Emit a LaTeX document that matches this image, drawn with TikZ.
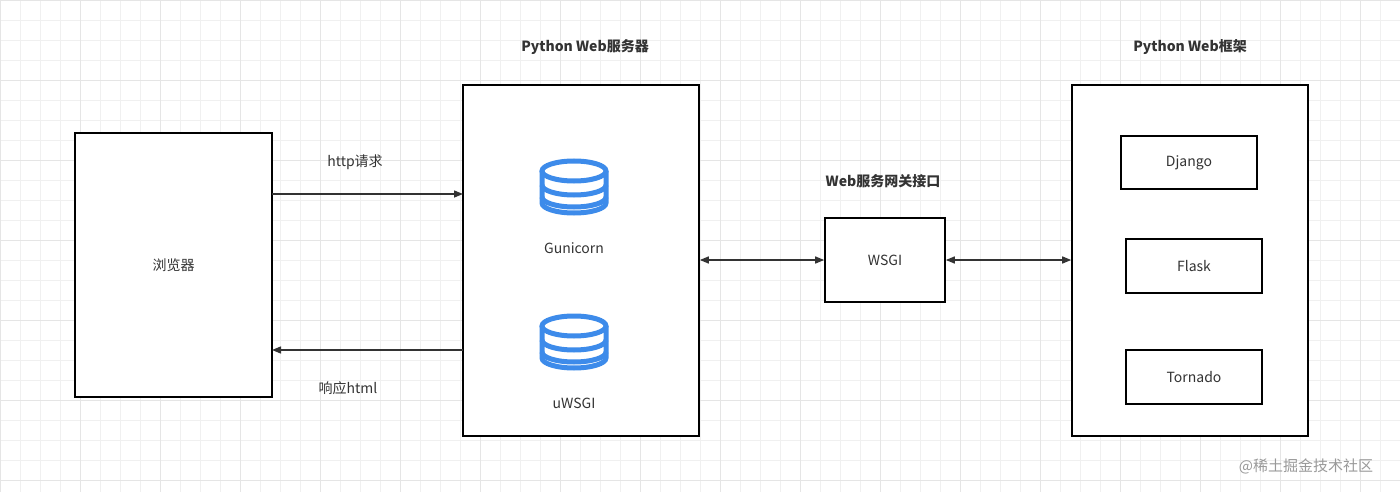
\documentclass[tikz,border=0pt]{standalone}
\usepackage{fontspec}
\setmainfont{Noto Sans CJK SC}
\usetikzlibrary{arrows.meta}
\definecolor{db}{HTML}{3D8BEA}
\definecolor{txt}{HTML}{333333}
\begin{document}
\begin{tikzpicture}[x=1pt,y=-1pt,
  box/.style={draw=black,line width=1.6pt,fill=white,inner sep=0pt},
  lbl/.style={font=\fontsize{14}{16}\selectfont,text=txt},
  ttl/.style={font=\fontsize{14}{16}\selectfont\bfseries,text=txt},
  arr/.style={line width=1.4pt,draw=txt,-{Triangle[length=9pt,width=7pt]}},
  darr/.style={line width=1.4pt,draw=txt,{Triangle[length=9pt,width=7pt]}-{Triangle[length=9pt,width=7pt]}}]
\fill[white] (0,0) rectangle (1400,492);
\useasboundingbox (0,0) rectangle (1400,492);
\foreach \i in {0,20,...,1400} \draw[black!6,line width=0.5pt] (\i,0) -- (\i,492);
\foreach \i in {0,20,...,480} \draw[black!6,line width=0.5pt] (0,\i) -- (1400,\i);
\foreach \i in {0,80,...,1400} \draw[black!10,line width=0.6pt] (\i,0) -- (\i,492);
\foreach \i in {0,80,...,480} \draw[black!10,line width=0.6pt] (0,\i) -- (1400,\i);
\node[box,minimum width=197pt,minimum height=264pt] (br) at (173.5,265) {};
\node[lbl] at (br.center) {浏览器};
\node[box,minimum width=236pt,minimum height=351pt] (srv) at (581,260.5) {};
\node[box,minimum width=120pt,minimum height=84pt] (wsgi) at (885,260) {};
\node[lbl] at (wsgi.center) {WSGI};
\node[box,minimum width=236pt,minimum height=351pt] (fw) at (1190,260.5) {};
\node[box,minimum width=136pt,minimum height=53pt] (dj) at (1189,162.5) {};
\node[lbl] at (dj.center) {Django};
\node[box,minimum width=136pt,minimum height=54pt] (fl) at (1194,266) {};
\node[lbl] at (fl.center) {Flask};
\node[box,minimum width=136pt,minimum height=54pt] (to) at (1194,377) {};
\node[lbl] at (to.center) {Tornado};
\node[ttl] (t1) at (585,47) {Python Web服务器};
\node[ttl] (t2) at (1190,47) {Python Web框架};
\node[ttl] (t3) at (883,181) {Web服务网关接口};
\node[lbl] (l1) at (355,162) {http请求};
\node[lbl] (l2) at (348,388) {响应html};
\foreach \cy/\nm/\t in {187/g/Gunicorn,342/u/uWSGI}{
  \begin{scope}[line width=5pt,draw=db]
    \draw (542,\cy-16) -- (542,\cy+16) arc[start angle=180,end angle=0,x radius=32,y radius=10] -- (606,\cy-16);
    \draw (574,\cy-16) ellipse[x radius=32,y radius=10];
    \draw (542,\cy-2) arc[start angle=180,end angle=0,x radius=32,y radius=10];
    \draw (542,\cy+10) arc[start angle=180,end angle=0,x radius=32,y radius=10];
  \end{scope}
  \node[lbl] (\nm) at (574,\cy+61) {\t};
}
\coordinate (a1) at (272,194); \coordinate (a2) at (463,194);
\coordinate (b1) at (463,350); \coordinate (b2) at (272,350);
\draw[arr] (a1) -- (a2);
\draw[arr] (b1) -- (b2);
\draw[darr] (srv.east |- wsgi.west) -- (wsgi.west);
\draw[darr] (wsgi.east) -- (fw.west |- wsgi.east);
\node[font=\fontsize{15}{17}\selectfont,text=black!40] (wm) at (1306,466) {@稀土掘金技术社区};
\end{tikzpicture}
\end{document}
